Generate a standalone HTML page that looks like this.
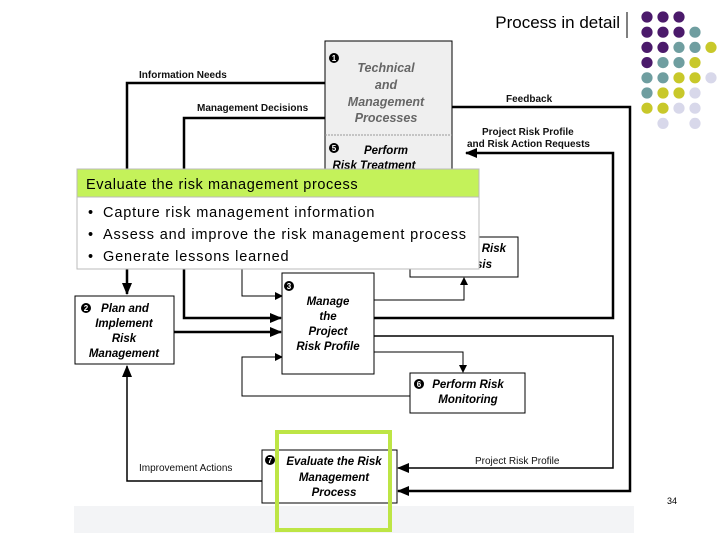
<!DOCTYPE html>
<html><head><meta charset="utf-8"><style>
body{margin:0;width:720px;height:540px;background:#fff;overflow:hidden;position:relative;font-family:"Liberation Sans",sans-serif}
svg{position:absolute;left:0;top:0}
</style></head><body>
<svg width="720" height="540" viewBox="0 0 720 540">
<defs>
<marker id="a" markerWidth="8" markerHeight="8" refX="7" refY="4" orient="auto" markerUnits="userSpaceOnUse"><path d="M0,0 L8,4 L0,8 z" fill="#000"/></marker>
<marker id="b" markerWidth="12" markerHeight="10" refX="11" refY="5" orient="auto" markerUnits="userSpaceOnUse"><path d="M0,0 L12,5 L0,10 z" fill="#000"/></marker>
</defs>
<rect x="74" y="506" width="560" height="27" fill="#f3f4f6"/>
<text x="620" y="28" font-size="17" text-anchor="end" font-family="Liberation Sans">Process in detail</text>
<line x1="627" y1="12" x2="627" y2="38" stroke="#000" stroke-width="1"/>
<g id="dots"></g>
<g fill="none" stroke="#000">
<polyline points="325,83 127,83 127,294" stroke-width="2.5" marker-end="url(#b)"/>
<polyline points="325,118 184,118 184,318 281,318" stroke-width="2.5" marker-end="url(#b)"/>
<polyline points="174,332 281,332" stroke-width="2.5" marker-end="url(#b)"/>
<polyline points="452,107 630,107 630,491 398,491" stroke-width="2.5" marker-end="url(#b)"/>
<polyline points="373,318 613,318 613,153 466,153" stroke-width="2.5" marker-end="url(#b)"/>
<polyline points="373,336 613,336 613,468 398,468" stroke-width="1.5" marker-end="url(#b)"/>
<polyline points="373,300 464,300 464,278" stroke-width="1" marker-end="url(#a)"/>
<polyline points="373,352 463,352 463,372" stroke-width="1" marker-end="url(#a)"/>
<polyline points="412,396 242,396 242,357 282,357" stroke-width="1" marker-end="url(#a)"/>
<polyline points="242,268 242,296 282,296" stroke-width="1" marker-end="url(#a)"/>
<polyline points="262,481 127,481 127,366" stroke-width="1.5" marker-end="url(#b)"/>
</g>
<rect x="325" y="41" width="127" height="132" fill="#efefef" stroke="#000" stroke-width="1"/>
<line x1="325" y1="135" x2="452" y2="135" stroke="#999" stroke-dasharray="2,1"/>
<circle cx="334" cy="58" r="5" fill="#000"/><text x="334" y="61" font-size="8" fill="#fff" text-anchor="middle" font-weight="bold">1</text>
<g font-size="12.5" font-weight="bold" font-style="italic" fill="#666" text-anchor="middle">
<text x="386" y="72">Technical</text><text x="386" y="89">and</text><text x="386" y="106">Management</text><text x="386" y="122">Processes</text></g>
<circle cx="334" cy="148" r="5" fill="#000"/><text x="334" y="151" font-size="8" fill="#fff" text-anchor="middle" font-weight="bold">5</text>
<g font-size="11.5" font-weight="bold" font-style="italic" text-anchor="middle"><text x="386" y="154">Perform</text><text x="374" y="169">Risk Treatment</text></g>
<g font-size="10" font-weight="bold" fill="#111">
<text x="139" y="78">Information Needs</text>
<text x="197" y="111">Management Decisions</text>
<text x="506" y="102">Feedback</text>
<text x="482" y="135">Project Risk Profile</text>
<text x="467" y="147">and Risk Action Requests</text>
</g>
<g font-size="10" fill="#111"><text x="139" y="471">Improvement Actions</text><text x="475" y="464">Project Risk Profile</text></g>
<rect x="410" y="237" width="108" height="40" fill="#fff" stroke="#000"/>
<g font-size="11.5" font-weight="bold" font-style="italic" text-anchor="end"><text x="506" y="252">Risk</text><text x="492" y="268">sis</text></g>
<rect x="282" y="273" width="92" height="101" fill="#fff" stroke="#000"/>
<circle cx="289" cy="286" r="5" fill="#000"/><text x="289" y="289" font-size="8" fill="#fff" text-anchor="middle" font-weight="bold">3</text>
<g font-size="11.5" font-weight="bold" font-style="italic" text-anchor="middle"><text x="328" y="305">Manage</text><text x="328" y="320">the</text><text x="328" y="335">Project</text><text x="328" y="350">Risk Profile</text></g>
<rect x="75" y="296" width="99" height="68" fill="#fff" stroke="#000"/>
<circle cx="86" cy="308" r="5" fill="#000"/><text x="86" y="311" font-size="8" fill="#fff" text-anchor="middle" font-weight="bold">2</text>
<g font-size="11.5" font-weight="bold" font-style="italic" text-anchor="middle"><text x="125" y="312">Plan and</text><text x="124" y="327">Implement</text><text x="124" y="342">Risk</text><text x="124" y="357">Management</text></g>
<rect x="410" y="373" width="115" height="40" fill="#fff" stroke="#000"/>
<circle cx="419" cy="384" r="5" fill="#000"/><text x="419" y="387" font-size="8" fill="#fff" text-anchor="middle" font-weight="bold">6</text>
<g font-size="11.5" font-weight="bold" font-style="italic" text-anchor="middle"><text x="468" y="388">Perform Risk</text><text x="468" y="403">Monitoring</text></g>
<rect x="262" y="450" width="135" height="53" fill="#fff" stroke="#000"/>
<circle cx="270" cy="460" r="5" fill="#000"/><text x="270" y="463" font-size="8" fill="#fff" text-anchor="middle" font-weight="bold">7</text>
<g font-size="11.5" font-weight="bold" font-style="italic" text-anchor="middle"><text x="334" y="465">Evaluate the Risk</text><text x="334" y="481">Management</text><text x="334" y="496">Process</text></g>
<rect x="277" y="432" width="113" height="98" fill="none" stroke="#bde545" stroke-width="4"/>
<text x="672" y="504" font-size="9" text-anchor="middle">34</text>
<rect x="77" y="169" width="402" height="100" fill="#fff" stroke="#bbb"/>
<rect x="77" y="169" width="402" height="28" fill="#c4f25a" stroke="#bbb"/>
<g font-family="'Liberation Sans',sans-serif" font-size="14.5" letter-spacing="0.6">
<text x="86" y="189">Evaluate the risk management process</text>
</g>
<g font-size="14.5">
<text x="88" y="217">•</text><text x="88" y="239">•</text><text x="88" y="261">•</text>
</g>
<g font-family="'Liberation Sans',sans-serif" font-size="14.5" letter-spacing="0.85">
<text x="103" y="217">Capture risk management information</text>
<text x="103" y="239">Assess and improve the risk management process</text>
<text x="103" y="261">Generate lessons learned</text>
</g>
</svg>
<script>
var P="#4b1a6b",T="#6f9ea0",Y="#c8c82a",L="#d8d8ea";
var rows=[[P,P,P],[P,P,P,T],[P,P,T,T,Y],[P,T,T,Y],[T,T,Y,Y,L],[T,Y,Y,L],[Y,Y,L,L],[0,L,0,L]];
var g=document.getElementById('dots'),s='';
rows.forEach(function(r,i){r.forEach(function(c,j){if(c)s+='<circle cx="'+(647+j*16)+'" cy="'+(17+i*15.2)+'" r="5.6" fill="'+c+'"/>';});});
g.innerHTML=s;
</script>
</body></html>
